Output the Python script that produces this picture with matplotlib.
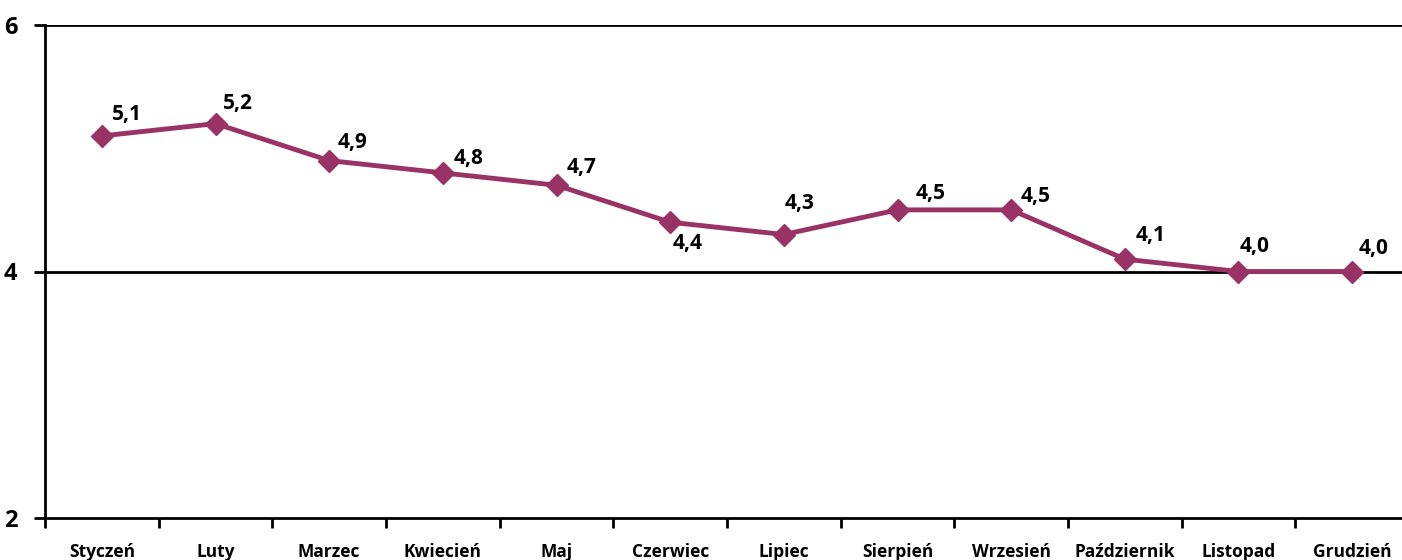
import numpy as np
import matplotlib.pyplot as plt

months = ["Styczeń", "Luty", "Marzec", "Kwiecień", "Maj", "Czerwiec", "Lipiec",
          "Sierpień", "Wrzesień", "Październik", "Listopad", "Grudzień"]
values = [5.1, 5.2, 4.9, 4.8, 4.7, 4.4, 4.3, 4.5, 4.5, 4.1, 4.0, 4.0]
yticks = [2, 4, 6]

# label offsets in pixels (dx, dy) from each point
offsets = [(25, 21), (22, 20), (23, 18), (26, 14), (25, 18), (17, -21), (16, 31),
           (33, 16), (24, 13), (26, 24), (16, 25), (21, 23)]

plt.rcParams['font.family'] = ['Open Sans', 'DejaVu Sans']
plt.rcParams['font.weight'] = 'bold'

W, H = 1402, 560
fig = plt.figure(figsize=(W / 100, H / 100), dpi=100)
ax = fig.add_axes([45 / W, 42 / H, (1409 - 45) / W, 493 / H])

x = np.arange(len(months))
color = '#993366'
ax.plot(x, values, color=color, lw=3.5, marker='D', markersize=11.5,
        markerfacecolor=color, markeredgecolor=color, zorder=3, clip_on=False)

for xi, v, (dx, dy) in zip(x, values, offsets):
    ax.annotate(f"{v:.1f}".replace('.', ','), (xi, v), xytext=(dx, dy),
                textcoords='offset pixels', ha='center', va='center',
                fontsize=15, fontweight='bold', color='black')

ax.set_xlim(-0.5, len(months) - 0.5)
ax.set_ylim(2, 6)
ax.set_yticks(yticks)
ax.set_yticklabels([str(t) for t in yticks], fontsize=17, fontweight='bold')
for t in yticks[1:]:
    ax.axhline(t, color='black', lw=2, zorder=1)

ax.set_xticks(x)
ax.set_xticklabels(months, fontsize=12.5, fontweight='bold')
ax.set_xticks(np.arange(-0.5, len(months) + 0.5, 1), minor=True)
ax.tick_params(axis='x', which='major', length=0, pad=18)
ax.tick_params(axis='x', which='minor', length=7, width=2, direction='out')
ax.tick_params(axis='y', length=8, width=2, direction='out', pad=12)

for s in ['top', 'right']:
    ax.spines[s].set_visible(False)
for s in ['left', 'bottom']:
    ax.spines[s].set_linewidth(2)

fig.savefig('out.png', dpi=100)
